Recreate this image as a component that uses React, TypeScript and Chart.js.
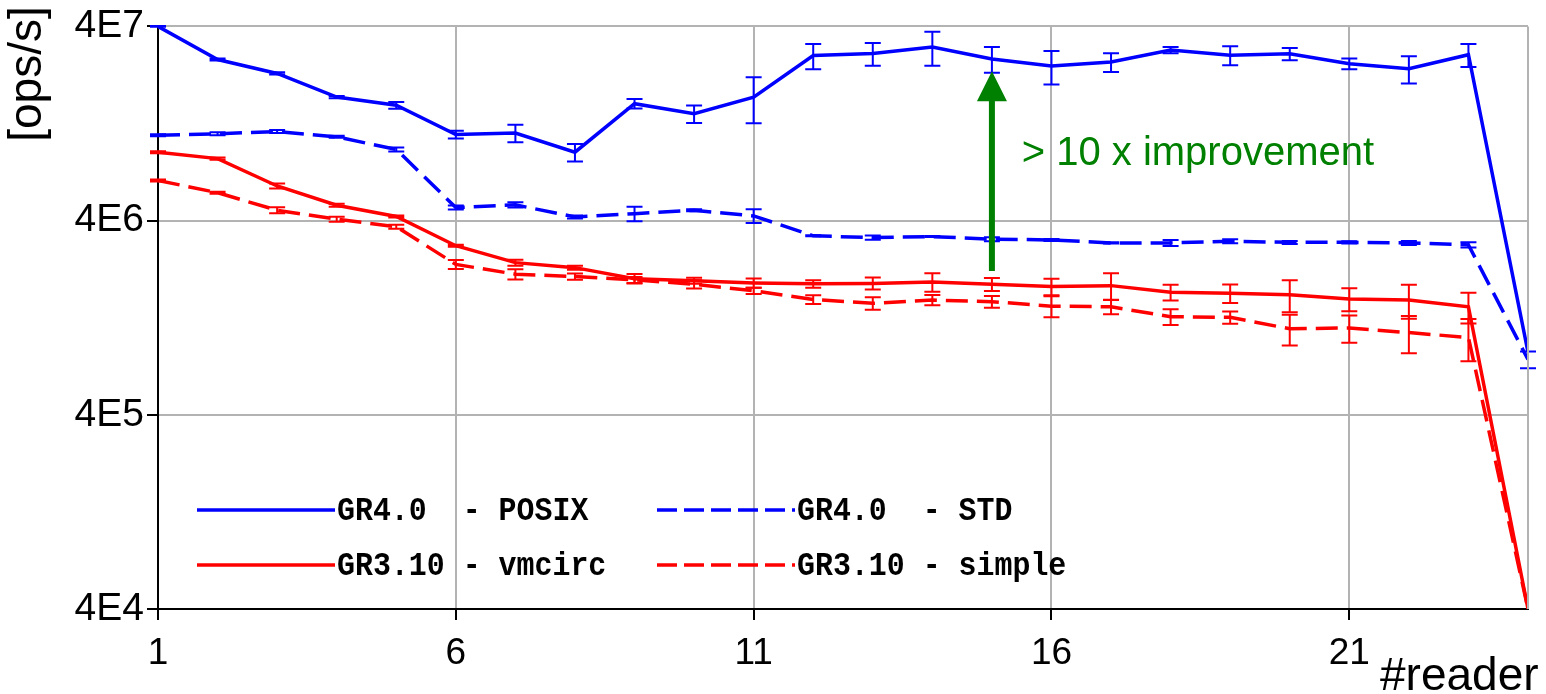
import React, { useEffect, useRef } from 'react';
import { Chart, registerables } from 'chart.js';

Chart.register(...registerables);

// ---------- data ----------
const readers = [1, 2, 3, 4, 5, 6, 7, 8, 9, 10, 11, 12, 13, 14, 15, 16, 17, 18, 19, 20, 21, 22, 23, 24];

const posix = [4.0e7, 2.70e7, 2.29e7, 1.73e7, 1.57e7, 1.11e7, 1.13e7, 9.0e6, 1.60e7, 1.42e7, 1.73e7, 2.83e7, 2.90e7, 3.13e7, 2.72e7, 2.50e7, 2.62e7, 3.02e7, 2.84e7, 2.89e7, 2.57e7, 2.42e7, 2.86e7, 8.4e5];
const posixErr = [2e5, 3e5, 3e5, 2.5e5, 6.3e5, 5.0e5, 1.16e6, 9.3e5, 9.1e5, 1.46e6, 4.6e6, 4.2e6, 3.9e6, 6.2e6, 4.1e6, 4.9e6, 2.9e6, 1.1e6, 3.2e6, 2.1e6, 1.6e6, 3.9e6, 3.9e6, 0];

const std = [1.10e7, 1.12e7, 1.15e7, 1.08e7, 9.3e6, 4.67e6, 4.82e6, 4.18e6, 4.34e6, 4.52e6, 4.23e6, 3.34e6, 3.27e6, 3.31e6, 3.21e6, 3.18e6, 3.07e6, 3.07e6, 3.13e6, 3.09e6, 3.09e6, 3.07e6, 3.00e6, 7.7e5];
const stdErr = [1.3e5, 2.0e5, 2.1e5, 1.3e5, 2.2e5, 1.1e5, 1.45e5, 7.5e4, 3.7e5, 5e4, 3.4e5, 2e4, 7.8e4, 2e4, 7.7e4, 3.8e4, 2e4, 1.1e5, 7.5e4, 5.5e4, 3.7e4, 7.4e4, 9e4, 7.6e4];

const vmcirc = [9.0e6, 8.34e6, 6.03e6, 4.8e6, 4.2e6, 2.97e6, 2.43e6, 2.29e6, 2.01e6, 1.96e6, 1.91e6, 1.89e6, 1.90e6, 1.93e6, 1.88e6, 1.83e6, 1.85e6, 1.71e6, 1.69e6, 1.66e6, 1.58e6, 1.56e6, 1.44e6, 4.0e4];
const vmcircErr = [1.1e5, 1e5, 1.8e5, 8.6e4, 5e4, 3.6e4, 8.7e4, 5.5e4, 1.15e5, 7e4, 1.05e5, 8.4e4, 1.35e5, 2.1e5, 1.43e5, 1.8e5, 2.9e5, 1.6e5, 1.86e5, 3.1e5, 2.15e5, 3.1e5, 2.6e5, 0];

const simple = [6.44e6, 5.57e6, 4.52e6, 4.07e6, 3.72e6, 2.38e6, 2.12e6, 2.06e6, 1.98e6, 1.88e6, 1.74e6, 1.57e6, 1.50e6, 1.56e6, 1.53e6, 1.45e6, 1.44e6, 1.28e6, 1.27e6, 1.11e6, 1.12e6, 1.06e6, 1.0e6, 4.0e4];
const simpleErr = [7.7e4, 6.7e4, 1.6e5, 1.2e5, 9e4, 1.24e5, 1.3e5, 7.4e4, 7.1e4, 9e4, 6.3e4, 8e4, 1.1e5, 9.5e4, 1.07e5, 1.8e5, 1.24e5, 1.2e5, 9.3e4, 2e5, 1.8e5, 2.3e5, 2.45e5, 0];

const seriesLabels = ['GR4.0  - POSIX', 'GR4.0  - STD', 'GR3.10 - vmcirc', 'GR3.10 - simple'];

const xTickValues = [1, 6, 11, 16, 21];
const yTickValues = [4e4, 4e5, 4e6, 4e7];
const yTickLabels = ['4E4', '4E5', '4E6', '4E7'];

const xTitle = '#reader';
const yTitle = '[ops/s]';

const annotationText = '> 10 x improvement';
const arrowX = 15;
const arrowFrom = 2.2e6;
const arrowTo = 2.35e7;
const annotationTextX = 15.5;
const annotationTextY = 7.7e6;

// ---------- styles ----------
const BLUE = '#0000ff';
const RED = '#ff0000';
const GREEN = '#008000';
const GRID = '#b3b3b3';
const SANS = '"Liberation Sans", Arial, sans-serif';
const MONO = '"Liberation Mono", "DejaVu Sans Mono", monospace';
const DASH = [22, 9];

const errorBarPlugin = {
  id: 'errorBars',
  afterDatasetsDraw(chart: any) {
    const { ctx, chartArea, scales } = chart;
    const xs = scales.x;
    const ys = scales.y;
    const raw = [posix, std, vmcirc, simple];
    ctx.save();
    ctx.beginPath();
    ctx.rect(chartArea.left - 10, chartArea.top - 2, chartArea.right - chartArea.left + 20, chartArea.bottom - chartArea.top + 4);
    ctx.clip();
    chart.data.datasets.forEach((ds: any, k: number) => {
      const errs: number[] = ds.errors || [];
      const vals = raw[k];
      ctx.strokeStyle = ds.borderColor;
      ctx.lineWidth = 2;
      ctx.setLineDash([]);
      vals.forEach((v: number, j: number) => {
        const e = errs[j];
        if (!e) return;
        const x = xs.getPixelForValue(readers[j]);
        const yt = ys.getPixelForValue(v + e);
        const yb = ys.getPixelForValue(Math.max(v - e, 1));
        ctx.beginPath();
        ctx.moveTo(x, yt);
        ctx.lineTo(x, yb);
        ctx.moveTo(x - 8, yt);
        ctx.lineTo(x + 8, yt);
        ctx.moveTo(x - 8, yb);
        ctx.lineTo(x + 8, yb);
        ctx.stroke();
      });
    });
    ctx.restore();
  },
};

const decorPlugin = {
  id: 'decor',
  afterDraw(chart: any) {
    const { ctx, chartArea, scales } = chart;
    const xs = scales.x;
    const ys = scales.y;
    ctx.save();

    // right frame line
    ctx.strokeStyle = GRID;
    ctx.lineWidth = 2;
    ctx.beginPath();
    ctx.moveTo(chartArea.right, chartArea.top);
    ctx.lineTo(chartArea.right, chartArea.bottom);
    ctx.stroke();

    // arrow
    const ax = xs.getPixelForValue(arrowX);
    const y0 = ys.getPixelForValue(arrowFrom);
    const y1 = ys.getPixelForValue(arrowTo);
    const headLen = 30;
    ctx.strokeStyle = GREEN;
    ctx.fillStyle = GREEN;
    ctx.lineWidth = 6;
    ctx.beginPath();
    ctx.moveTo(ax, y0);
    ctx.lineTo(ax, y1 + headLen - 2);
    ctx.stroke();
    ctx.beginPath();
    ctx.moveTo(ax, y1);
    ctx.lineTo(ax - 15, y1 + headLen);
    ctx.lineTo(ax + 15, y1 + headLen);
    ctx.closePath();
    ctx.fill();

    // annotation text
    ctx.font = `40px ${SANS}`;
    ctx.textAlign = 'left';
    ctx.textBaseline = 'alphabetic';
    ctx.fillText(annotationText, xs.getPixelForValue(annotationTextX), ys.getPixelForValue(annotationTextY));

    // legend
    const styles = [
      { color: BLUE, dash: [] as number[] },
      { color: BLUE, dash: [20, 7] },
      { color: RED, dash: [] as number[] },
      { color: RED, dash: [20, 7] },
    ];
    const cols = [197, 657];
    const rows = [510, 565];
    ctx.font = `bold 34px ${MONO}`;
    ctx.textBaseline = 'middle';
    seriesLabels.forEach((label, i) => {
      const cx = cols[i % 2];
      const cy = rows[Math.floor(i / 2)];
      ctx.strokeStyle = styles[i].color;
      ctx.lineWidth = 3.5;
      ctx.setLineDash(styles[i].dash);
      ctx.beginPath();
      ctx.moveTo(cx, cy);
      ctx.lineTo(cx + 138, cy);
      ctx.stroke();
      ctx.setLineDash([]);
      ctx.fillStyle = '#000';
      ctx.save();
      ctx.translate(cx + 140, cy + 1);
      ctx.scale(0.88, 1);
      ctx.fillText(label, 0, 0);
      ctx.restore();
    });

    // axis titles
    ctx.fillStyle = '#000';
    ctx.font = `46px ${SANS}`;
    ctx.textAlign = 'left';
    ctx.textBaseline = 'alphabetic';
    ctx.fillText(xTitle, 1380, 690);

    ctx.save();
    ctx.translate(41, 74);
    ctx.rotate(-Math.PI / 2);
    ctx.textAlign = 'center';
    ctx.textBaseline = 'alphabetic';
    ctx.fillText(yTitle, 0, 0);
    ctx.restore();

    ctx.restore();
  },
};

export default function App() {
  const canvasRef = useRef<HTMLCanvasElement | null>(null);

  useEffect(() => {
    const canvas = canvasRef.current;
    if (!canvas) return;
    const mk = (label: string, data: number[], errors: number[], color: string, dash: number[]) => ({
      label,
      data: data.map((v, i) => ({ x: readers[i], y: v })),
      errors,
      borderColor: color,
      backgroundColor: color,
      borderWidth: 3.5,
      borderDash: dash,
      pointRadius: 0,
      tension: 0,
      fill: false,
    });
    const datasets: any[] = [
      mk(seriesLabels[0], posix, posixErr, BLUE, []),
      mk(seriesLabels[1], std, stdErr, BLUE, DASH),
      mk(seriesLabels[2], vmcirc, vmcircErr, RED, []),
      mk(seriesLabels[3], simple, simpleErr, RED, DASH),
    ];

    const chart = new Chart(canvas, {
      type: 'line',
      data: { datasets },
      plugins: [errorBarPlugin, decorPlugin],
      options: {
        animation: false,
        responsive: true,
        maintainAspectRatio: false,
        events: [],
        layout: { autoPadding: false, padding: { top: 25, right: 18, left: 0, bottom: 0 } },
        plugins: {
          legend: { display: false },
          tooltip: { enabled: false },
          title: { display: false },
        },
        scales: {
          x: {
            type: 'linear',
            min: 1,
            max: 24,
            afterBuildTicks: (s: any) => {
              s.ticks = xTickValues.map((v) => ({ value: v }));
            },
            afterFit: (s: any) => {
              s.height = 85;
            },
            ticks: {
              autoSkip: false,
              maxRotation: 0,
              color: '#000',
              padding: 12,
              font: { family: SANS, size: 37 },
              callback: (v: any) => String(v),
            },
            grid: { color: GRID, lineWidth: 2, tickColor: '#000', tickLength: 11, tickWidth: 2 },
            border: { color: '#000', width: 2 },
          },
          y: {
            type: 'logarithmic',
            min: yTickValues[0],
            max: yTickValues[yTickValues.length - 1],
            afterBuildTicks: (s: any) => {
              s.ticks = yTickValues.map((v) => ({ value: v }));
            },
            afterFit: (s: any) => {
              s.width = 158;
            },
            ticks: {
              autoSkip: false,
              color: '#000',
              padding: 3,
              font: { family: SANS, size: 39 },
              callback: (v: any) => {
                const i = yTickValues.indexOf(Number(v));
                return i >= 0 ? yTickLabels[i] : '';
              },
            },
            grid: { color: GRID, lineWidth: 2, tickColor: '#000', tickLength: 11, tickWidth: 2 },
            border: { color: '#000', width: 2 },
          },
        },
      } as any,
    });
    return () => chart.destroy();
  }, []);

  return (
    <div style={{ position: 'fixed', left: 0, top: 0, width: '1546px', height: '694px', background: '#fff' }}>
      <canvas ref={canvasRef} style={{ display: 'block' }} />
    </div>
  );
}
